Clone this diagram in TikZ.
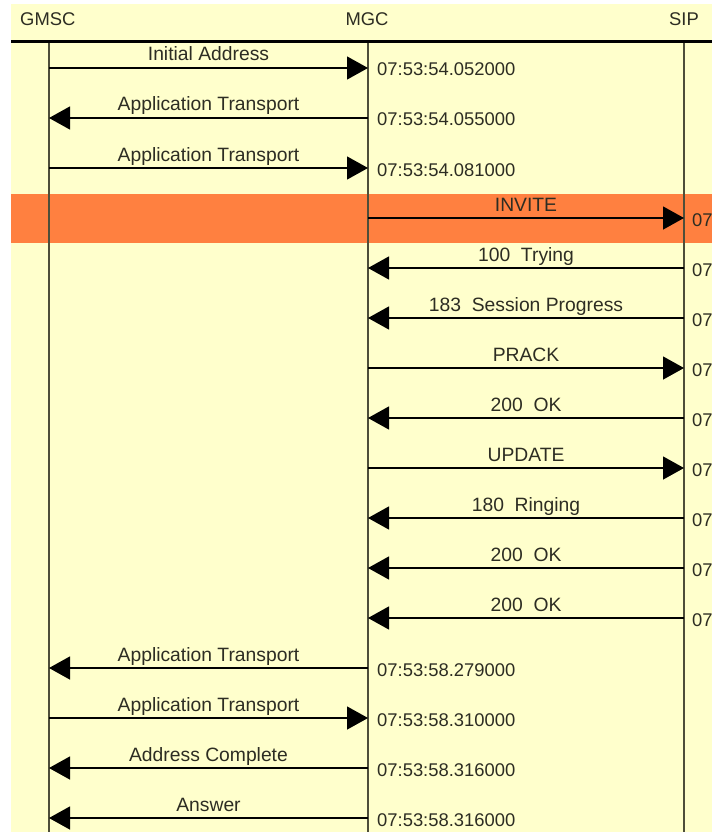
\documentclass[tikz,border=0pt]{standalone}
\usepackage{fontspec}
\setmainfont{Liberation Sans}
\usetikzlibrary{arrows.meta}
\definecolor{chartbg}{RGB}{255,255,204}
\definecolor{hilite}{RGB}{255,128,64}
\definecolor{lifegray}{RGB}{78,78,58}
\definecolor{txtgray}{RGB}{45,45,35}
\begin{document}
\begin{tikzpicture}[
        x=1pt, y=-1pt,
        >={Triangle[length=21pt,width=23pt]},
        life/.style={draw=lifegray, line width=2pt},
        msg/.style={->, line width=1.3pt},
        lbl/.style={midway, anchor=base, yshift=7pt, inner sep=0pt, text=txtgray, font=\fontsize{19.3}{21}\selectfont},
        stamp/.style={anchor=base west, inner sep=0pt, text=txtgray, font=\fontsize{18.4}{20}\selectfont},
        head/.style={anchor=base, inner sep=0pt, text=txtgray, font=\fontsize{18.4}{20}\selectfont}
      ]
      \useasboundingbox (0,0) rectangle (712,832);
      \fill[white] (0,0) rectangle (712,832);
      \fill[chartbg] (11,4) rectangle (712,832);
      \fill[hilite] (11,194) rectangle (712,243);

      % header
      \node[head, anchor=base west] (hgmsc) at (20,26) {GMSC};
      \node[head] (hmgc) at (367,26) {MGC};
      \node[head] (hsip) at (684,26) {SIP};
      \draw[line width=3pt] (11,42) -- (712,42);

      % lifelines
      \coordinate (gmsc) at (49,43);
      \coordinate (mgc) at (368,43);
      \coordinate (sip) at (684,43);
      \coordinate (bot) at (0,832);
      \draw[life] (gmsc) -- (gmsc |- bot);
      \draw[life] (mgc) -- (mgc |- bot);
      \draw[life] (sip) -- (sip |- bot);

      % rows
      \coordinate (r1) at (0,68);
      \coordinate (r2) at (0,118);
      \coordinate (r3) at (0,168);
      \coordinate (r4) at (0,218);
      \coordinate (r5) at (0,268);
      \coordinate (r6) at (0,318);
      \coordinate (r7) at (0,368);
      \coordinate (r8) at (0,418);
      \coordinate (r9) at (0,468);
      \coordinate (r10) at (0,518);
      \coordinate (r11) at (0,568);
      \coordinate (r12) at (0,618);
      \coordinate (r13) at (0,668);
      \coordinate (r14) at (0,718);
      \coordinate (r15) at (0,768);
      \coordinate (r16) at (0,818);

      \draw[msg] (gmsc |- r1) -- node[lbl] {Initial Address} (mgc |- r1);
      \draw[msg] (mgc |- r2) -- node[lbl] {Application Transport} (gmsc |- r2);
      \draw[msg] (gmsc |- r3) -- node[lbl] {Application Transport} (mgc |- r3);
      \draw[msg] (mgc |- r4) -- node[lbl] {INVITE} (sip |- r4);
      \draw[msg] (sip |- r5) -- node[lbl] {100~ Trying} (mgc |- r5);
      \draw[msg] (sip |- r6) -- node[lbl] {183~ Session Progress} (mgc |- r6);
      \draw[msg] (mgc |- r7) -- node[lbl] {PRACK} (sip |- r7);
      \draw[msg] (sip |- r8) -- node[lbl] {200~ OK} (mgc |- r8);
      \draw[msg] (mgc |- r9) -- node[lbl] {UPDATE} (sip |- r9);
      \draw[msg] (sip |- r10) -- node[lbl] {180~ Ringing} (mgc |- r10);
      \draw[msg] (sip |- r11) -- node[lbl] {200~ OK} (mgc |- r11);
      \draw[msg] (sip |- r12) -- node[lbl] {200~ OK} (mgc |- r12);
      \draw[msg] (mgc |- r13) -- node[lbl] {Application Transport} (gmsc |- r13);
      \draw[msg] (gmsc |- r14) -- node[lbl] {Application Transport} (mgc |- r14);
      \draw[msg] (mgc |- r15) -- node[lbl] {Address Complete} (gmsc |- r15);
      \draw[msg] (mgc |- r16) -- node[lbl] {Answer} (gmsc |- r16);

      % time stamps
      \node[stamp] (t1) at (377,76) {07:53:54.052000};
      \node[stamp] (t2) at (377,126) {07:53:54.055000};
      \node[stamp] (t3) at (377,176) {07:53:54.081000};
      \node[stamp] (t4) at (692,226) {07};
      \node[stamp] (t5) at (692,276) {07};
      \node[stamp] (t6) at (692,326) {07};
      \node[stamp] (t7) at (692,376) {07};
      \node[stamp] (t8) at (692,426) {07};
      \node[stamp] (t9) at (692,476) {07};
      \node[stamp] (t10) at (692,526) {07};
      \node[stamp] (t11) at (692,576) {07};
      \node[stamp] (t12) at (692,626) {07};
      \node[stamp] (t13) at (377,676) {07:53:58.279000};
      \node[stamp] (t14) at (377,726) {07:53:58.310000};
      \node[stamp] (t15) at (377,776) {07:53:58.316000};
      \node[stamp] (t16) at (377,826) {07:53:58.316000};
    \end{tikzpicture}
\end{document}
